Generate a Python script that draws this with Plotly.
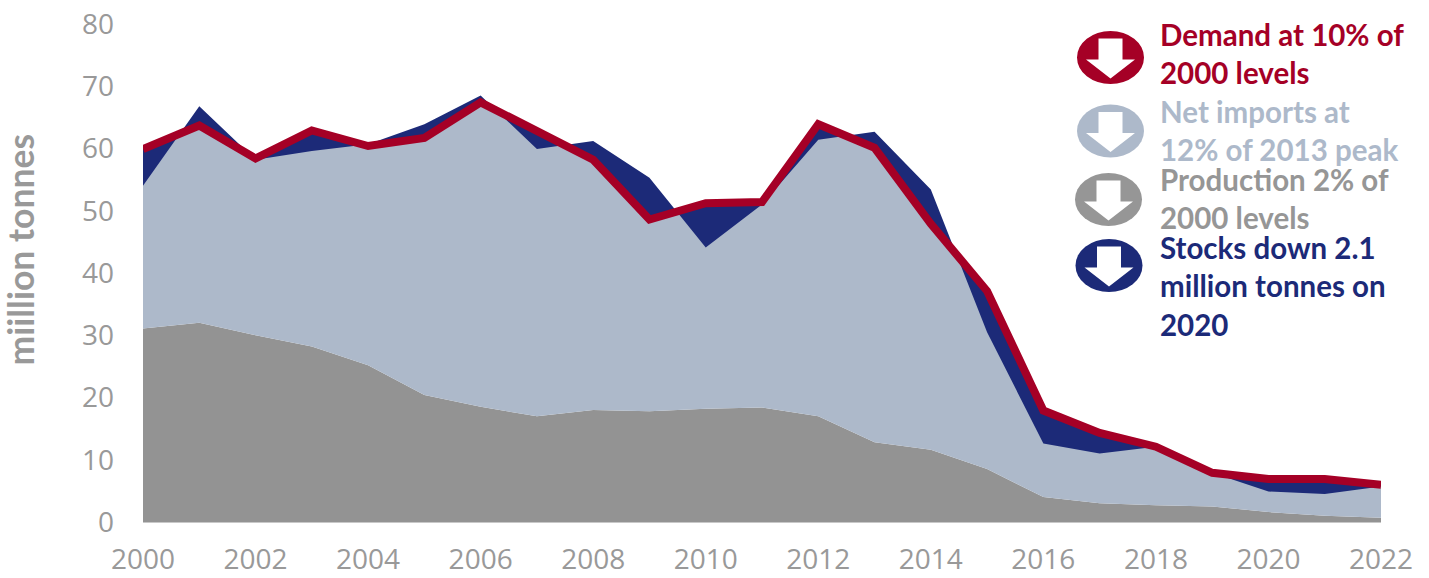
import plotly.graph_objects as go

years = list(range(2000, 2023))
production = [31.1, 32.0, 30.0, 28.2, 25.2, 20.4, 18.5, 17.0, 18.0, 17.8, 18.2, 18.4, 17.0, 12.8, 11.6, 8.5, 4.0, 3.0, 2.7, 2.5, 1.6, 1.0, 0.7]
supply_top = [59.9, 63.5, 58.3, 62.9, 60.3, 61.7, 67.2, 62.6, 58.2, 48.6, 51.2, 51.4, 63.9, 60.1, 47.9, 37.1, 17.9, 14.3, 12.1, 7.8, 6.9, 6.9, 6.0]
stock_top = [54.0, 66.8, 58.2, 59.6, 60.7, 63.9, 68.5, 59.9, 61.2, 55.3, 44.1, 51.0, 61.4, 62.7, 53.4, 30.5, 12.6, 11.0, 12.1, 7.9, 4.9, 4.5, 5.7]
demand = [59.9, 63.7, 58.4, 62.9, 60.4, 61.7, 67.4, 62.7, 58.2, 48.6, 51.2, 51.4, 63.9, 60.1, 47.9, 37.1, 17.9, 14.3, 12.1, 7.9, 6.9, 6.9, 6.0]
net_imports = [round(t - p, 1) for t, p in zip(supply_top, production)]
stock_change = [round(s - t, 1) for s, t in zip(stock_top, supply_top)]
x_ticks = list(range(2000, 2023, 2))
y_ticks = list(range(0, 90, 10))
y_title = "miillion tonnes"
legend_items = [
    ("Demand at 10% of<br>2000 levels", "#A50026"),
    ("Net imports at<br>12% of 2013 peak", "#ADB9CA"),
    ("Production 2% of<br>2000 levels", "#969696"),
    ("Stocks down 2.1<br>million tonnes on<br>2020", "#1C2A78"),
]

RED, LIGHT, GREY, NAVY = "#A50026", "#ADB9CA", "#939393", "#1C2A78"
TICK = "#999999"
W, H = 1429, 578
ML, MR, MT, MB = 143, 48, 24, 56

fig = go.Figure()
for name, vals, col in [("Production", production, GREY), ("Net imports", net_imports, LIGHT), ("Stock change", stock_change, NAVY)]:
    fig.add_trace(go.Scatter(x=years, y=vals, name=name, mode="none", stackgroup="s", fillcolor=col))
fig.add_trace(go.Scatter(x=years, y=demand, name="Demand", mode="lines", line=dict(color=RED, width=8), cliponaxis=False))


def px(x):
    return (x - ML) / (W - ML - MR)


def py(y):
    return 1 - (y - MT) / (H - MT - MB)


badges = [(1110.5, 57.5), (1110.5, 131), (1108.5, 199.5), (1109, 265.5)]
for (cx, cy), (_, col) in zip(badges, legend_items):
    rx, ry = 33.5, 26.5
    fig.add_shape(type="circle", xref="paper", yref="paper", x0=px(cx - rx), x1=px(cx + rx), y0=py(cy + ry), y1=py(cy - ry), fillcolor=col, line_width=0)
    pts = [(-12, -19), (12, -19), (12, 2), (24.5, 2), (0, 21), (-24.5, 2), (-12, 2)]
    path = "M " + " L ".join(f"{px(cx + a):.5f},{py(cy + b):.5f}" for a, b in pts) + " Z"
    fig.add_shape(type="path", xref="paper", yref="paper", path=path, fillcolor="white", line_width=0)

text_top = [17, 94, 162, 230]
for top, (txt, col) in zip(text_top, legend_items):
    fig.add_annotation(xref="paper", yref="paper", x=px(1160), y=py(top), xanchor="left", yanchor="top", align="left", showarrow=False, text=txt, font=dict(family="Lato", size=29.5, color=col, weight="bold"), borderpad=0, borderwidth=0)

fig.add_annotation(xref="paper", yref="paper", x=px(24), y=py(249.5), xanchor="center", yanchor="middle", textangle=-90, showarrow=False, text=y_title, font=dict(family="Lato", size=35.5, color=TICK, weight="bold"), xshift=-4)

fig.update_layout(
    width=W, height=H, margin=dict(l=ML, r=MR, t=MT, b=MB), autosize=False,
    paper_bgcolor="white", plot_bgcolor="white", showlegend=False,
    font=dict(family="Open Sans", color=TICK),
)
fig.update_xaxes(range=[2000, 2022], tickvals=x_ticks, ticks="", showgrid=False, zeroline=False, showline=True, linecolor="#C8C8C8", linewidth=1, tickfont=dict(size=28, color=TICK), ticklabelstandoff=12, automargin=False)
fig.update_yaxes(range=[0, 80], tickvals=y_ticks, ticks="", showgrid=False, zeroline=False, showline=False, tickfont=dict(size=28, color=TICK), ticklabelstandoff=28, automargin=False)

fig.write_html("out.html", config={"displayModeBar": False}, post_script="document.body.style.margin='0';")
